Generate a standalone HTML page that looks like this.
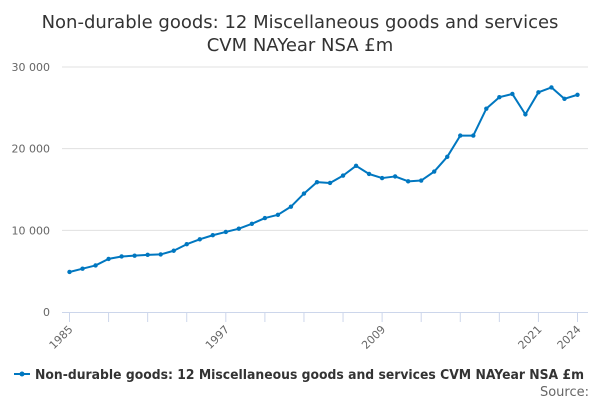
<!DOCTYPE html>
<html><head><meta charset="utf-8"><style>
html,body{margin:0;padding:0;background:#fff;}
body{width:600px;height:400px;overflow:hidden;font-family:"DejaVu Sans","Liberation Sans",sans-serif;}
</style></head><body>
<svg id="chart" width="600" height="400" style="display:block">
<text x="300" y="28" text-anchor="middle" font-size="18" fill="#333">Non-durable goods: 12 Miscellaneous goods and services</text>
<text x="300" y="51" text-anchor="middle" font-size="18" fill="#333">CVM NAYear NSA £m</text>
<g id="grid"></g>
<g id="xaxis"></g>
<g id="series"></g>
<g>
<line x1="14" y1="374" x2="30" y2="374" stroke="#0077c0" stroke-width="2"/>
<circle cx="22" cy="374" r="2.5" fill="#0077c0"/>
<text x="35" y="379" font-size="13" font-weight="bold" fill="#333" textLength="549" lengthAdjust="spacingAndGlyphs">Non-durable goods: 12 Miscellaneous goods and services CVM NAYear NSA £m</text>
</g>
<text x="589" y="396" text-anchor="end" font-size="13" fill="#666">Source:</text>
</svg>
<script>
const years=[1985,1986,1987,1988,1989,1990,1991,1992,1993,1994,1995,1996,1997,1998,1999,2000,2001,2002,2003,2004,2005,2006,2007,2008,2009,2010,2011,2012,2013,2014,2015,2016,2017,2018,2019,2020,2021,2022,2023,2024];
const values=[4900,5300,5700,6500,6800,6900,7000,7050,7500,8300,8900,9400,9800,10200,10800,11500,11900,12900,14500,15900,15800,16700,17900,16900,16400,16600,16000,16100,17200,19000,21600,21600,24900,26300,26700,24200,26900,27500,26100,26600];
const yTicks=[0,10000,20000,30000];
const yTickLabels=["0","10 000","20 000","30 000"];
const xLabelYears=[1985,1997,2009,2021,2024];
const NS="http://www.w3.org/2000/svg";
const x=y=>69.5+(y-1985)*(577.5-69.5)/39;
const yS=v=>312-v*(312-67)/30000;
function mk(t,a,p){const e=document.createElementNS(NS,t);for(const k in a)e.setAttribute(k,a[k]);p.appendChild(e);return e;}
const grid=document.getElementById('grid'),xa=document.getElementById('xaxis'),se=document.getElementById('series');
yTicks.forEach((v,i)=>{
 if(v>0){const l=mk('line',{x1:62,x2:588,y1:yS(v),y2:yS(v),stroke:'#e0e0e0','stroke-width':1},grid);
 
 }
 const t=mk('text',{x:50,y:yS(v)+4,'text-anchor':'end','font-size':11,fill:'#666'},grid);
 t.textContent=yTickLabels[i];
 
 
});
mk('line',{x1:62,x2:588,y1:312.5,y2:312.5,stroke:'#ccd6eb','stroke-width':1},xa);
for(let yr=1985;yr<=2024;yr+=3){mk('line',{x1:x(yr),x2:x(yr),y1:312,y2:322,stroke:'#ccd6eb'},xa);}
mk('line',{x1:x(2024),x2:x(2024),y1:312,y2:322,stroke:'#ccd6eb'},xa);
xLabelYears.forEach(yr=>{
 const t=mk('text',{x:x(yr)+4,y:330,'text-anchor':'end','font-size':11,fill:'#666',transform:`rotate(-45 ${x(yr)+4} 330)`},xa);
 t.textContent=yr;
 
 
});
const pts=years.map((yr,i)=>x(yr)+','+yS(values[i])).join(' ');
const pl=mk('polyline',{points:pts,fill:'none',stroke:'#0077c0','stroke-width':2,'stroke-linejoin':'round'},se);


years.forEach((yr,i)=>{
 const c=mk('circle',{cx:x(yr),cy:yS(values[i]),r:2.2,fill:'#0077c0'},se);
 
 
});
</script>
</body></html>
